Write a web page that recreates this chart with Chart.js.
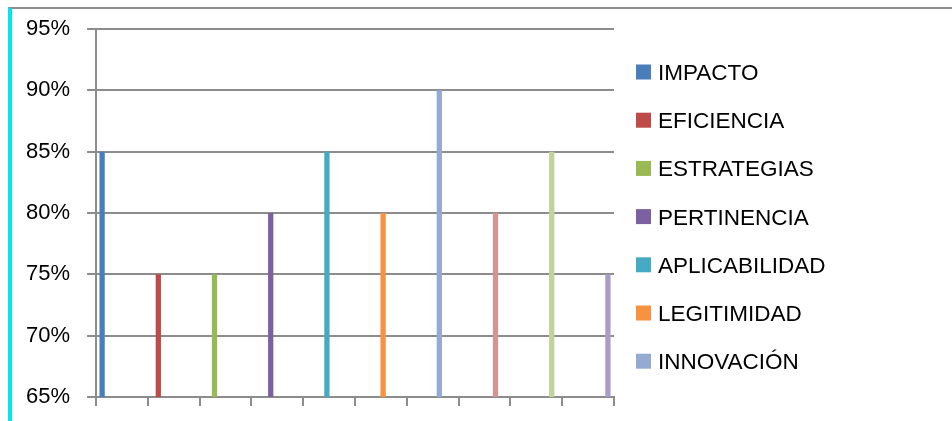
<!DOCTYPE html>
<html>
<head>
<meta charset="utf-8">
<script src="https://cdn.jsdelivr.net/npm/chart.js@4/dist/chart.umd.min.js"></script>
<style>
  html, body { margin: 0; padding: 0; background: #fff; }
  #wrap { position: relative; width: 952px; height: 421px; overflow: hidden; }
  #frame { position: absolute; left: 8px; top: 7px; right: -4px; bottom: -4px;
           border-top: 2px solid #8c8c8c; border-left: 4px solid #00e6ef; }
  canvas { position: absolute; left: 0; top: 0; }
</style>
</head>
<body>
<div id="wrap">
  <div id="frame"></div>
  <canvas id="chart" width="952" height="421"></canvas>
</div>
<script>
// Evaluation criteria and their scores (percent)
const categories = ['Evaluación'];
const seriesNames = ['IMPACTO', 'EFICIENCIA', 'ESTRATEGIAS', 'PERTINENCIA', 'APLICABILIDAD',
                     'LEGITIMIDAD', 'INNOVACIÓN', 'EFICACIA', 'SOSTENIBILIDAD', 'COBERTURA'];
const seriesValues = [85, 75, 75, 80, 85, 80, 90, 80, 85, 75];
const seriesColors = ['#4a7ebb', '#be4b48', '#98b954', '#7d60a0', '#46aac5',
                      '#f69240', '#95aad2', '#d49494', '#bdd49a', '#ab9cc6'];
const yTicks = [65, 70, 75, 80, 85, 90, 95];

const FONT = '"Liberation Sans", Arial, sans-serif';
const GRID = '#8c8c8c';

// Legend drawn beside the plot; rows that do not fit above the plot bottom are dropped
const sideLegend = {
  id: 'sideLegend',
  afterDraw(chart) {
    const { ctx, chartArea } = chart;
    const rowH = 48.2, box = 15;
    const boxX = chartArea.right + 22;
    ctx.save();
    ctx.font = '22.5px ' + FONT;
    ctx.textBaseline = 'alphabetic';
    let y = chartArea.top + 43;
    for (const ds of chart.data.datasets) {
      if (y > chartArea.bottom) break;
      ctx.fillStyle = ds.backgroundColor;
      ctx.fillRect(boxX, y - box / 2, box, box);
      ctx.fillStyle = '#000';
      ctx.fillText(ds.label, boxX + 22, y + 8);
      y += rowH;
    }
    ctx.restore();
  }
};

new Chart(document.getElementById('chart'), {
  type: 'bar',
  data: {
    labels: categories,
    datasets: seriesNames.map((name, i) => ({
      label: name,
      data: [seriesValues[i]],
      backgroundColor: seriesColors[i],
      borderWidth: 0,
      xAxisID: 'x',
      yAxisID: 'y'
    }))
  },
  options: {
    responsive: false,
    animation: false,
    devicePixelRatio: 1,
    categoryPercentage: 1.085,
    barPercentage: 0.094,
    layout: { padding: { left: 9, right: 338, top: 29, bottom: 15 } },
    plugins: { legend: { display: false }, tooltip: { enabled: false } },
    scales: {
      x: { type: 'category', display: false, offset: true },
      // tick marks along the base line, one per series slot
      xTicks: {
        type: 'linear', position: 'bottom', min: 0, max: 10, offset: false,
        ticks: { display: false, stepSize: 1 },
        grid: { offset: false, drawOnChartArea: false, drawTicks: true, tickLength: 9, color: GRID, lineWidth: 2 },
        border: { display: true, color: GRID, width: 2 }
      },
      y: {
        min: yTicks[0], max: yTicks[yTicks.length - 1],
        afterBuildTicks(scale) { scale.ticks = yTicks.map(v => ({ value: v })); },
        // tick labels may overhang the plot edges; the outer padding already leaves room
        afterFit(scale) { scale.paddingTop = 0; scale.paddingBottom = 0; },
        ticks: {
          padding: 17, color: '#000',
          font: { family: FONT, size: 22 },
          callback: v => v + '%'
        },
        grid: { color: GRID, lineWidth: 2, tickLength: 9, drawTicks: true },
        border: { display: true, color: GRID, width: 2 }
      }
    }
  },
  plugins: [sideLegend]
});
</script>
</body>
</html>
